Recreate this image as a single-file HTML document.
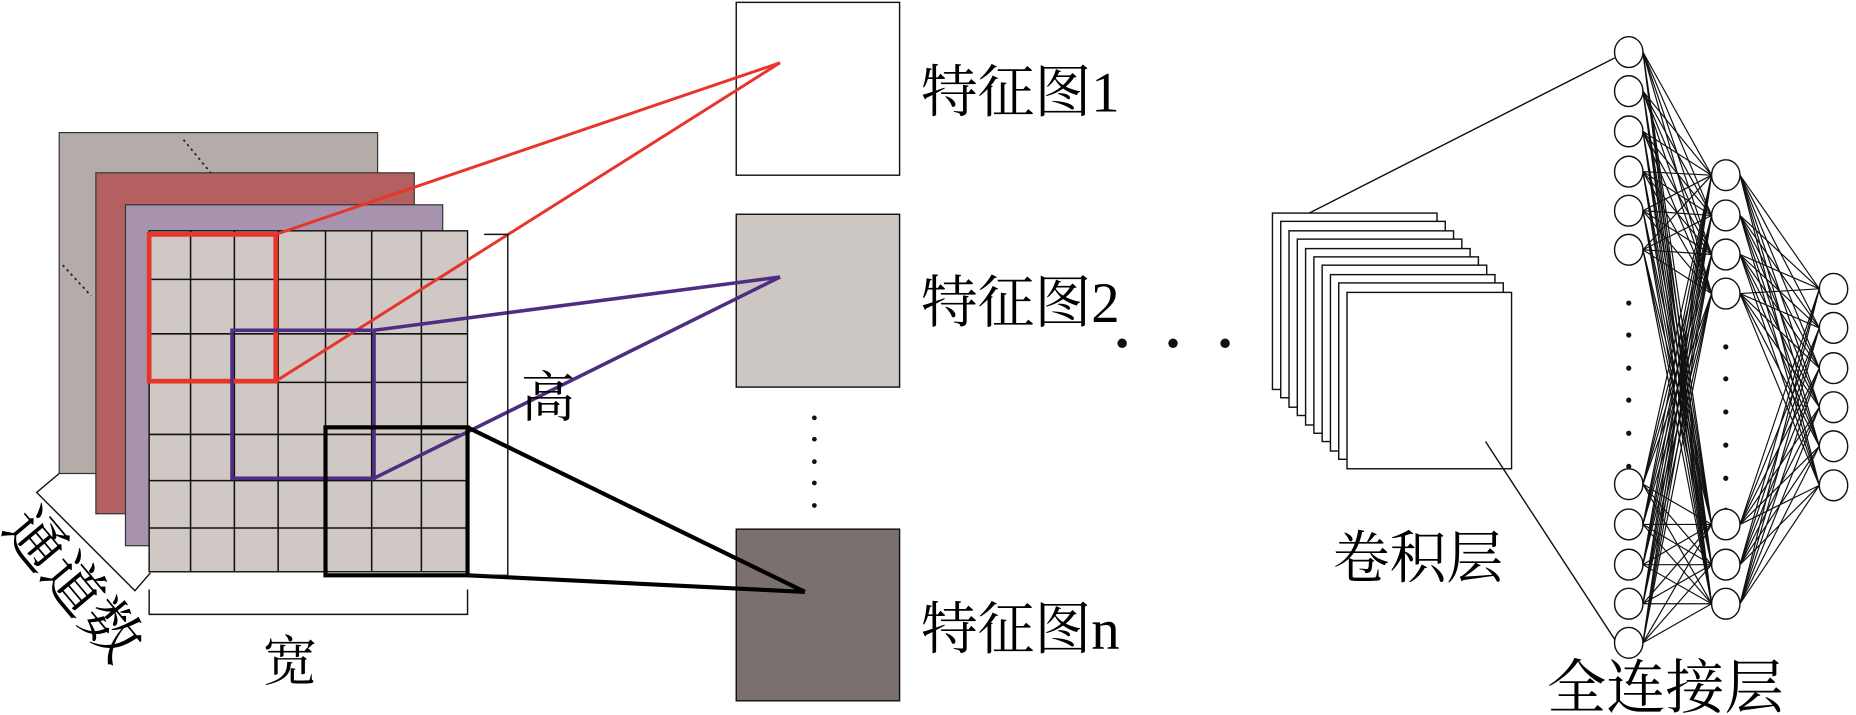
<!DOCTYPE html>
<html><head><meta charset="utf-8"><style>html,body{margin:0;padding:0;background:#fff;}svg{display:block}</style></head>
<body>
<svg width="1856" height="715" viewBox="0 0 1568 604" preserveAspectRatio="none" xmlns="http://www.w3.org/2000/svg" font-family="'Liberation Serif','Noto Serif CJK SC',serif">
<rect x="622" y="2" width="138" height="146" fill="#fff" stroke="#111" stroke-width="1.2"/>
<rect x="622" y="181" width="138" height="146" fill="#cdc7c3" stroke="#111" stroke-width="1.2"/>
<rect x="622" y="447" width="138" height="145" fill="#7a706e" stroke="#111" stroke-width="1.2"/>
<rect x="50" y="112" width="269" height="288" fill="#b3aca8" stroke="#333" stroke-width="1"/>
<line x1="155" y1="118" x2="178" y2="146" stroke="#222" stroke-width="1.5" stroke-dasharray="2,3"/>
<line x1="53" y1="224" x2="77" y2="250" stroke="#222" stroke-width="1.5" stroke-dasharray="2,3"/>
<rect x="81" y="146" width="269" height="288" fill="#b46060" stroke="#333" stroke-width="1"/>
<rect x="106" y="173" width="268" height="288" fill="#a893ae" stroke="#333" stroke-width="1"/>
<rect x="126" y="195" width="269" height="288" fill="#cfc8c4" stroke="#111" stroke-width="1.2"/>
<g stroke="#111" stroke-width="1.3">
<line x1="161" y1="195" x2="161" y2="483"/><line x1="198" y1="195" x2="198" y2="483"/><line x1="235" y1="195" x2="235" y2="483"/><line x1="275" y1="195" x2="275" y2="483"/><line x1="314" y1="195" x2="314" y2="483"/><line x1="356" y1="195" x2="356" y2="483"/>
<line x1="126" y1="236" x2="395" y2="236"/><line x1="126" y1="282" x2="395" y2="282"/><line x1="126" y1="323" x2="395" y2="323"/><line x1="126" y1="367" x2="395" y2="367"/><line x1="126" y1="406" x2="395" y2="406"/><line x1="126" y1="446" x2="395" y2="446"/>
</g>
<rect x="126" y="198" width="107" height="124" fill="none" stroke="#e8352b" stroke-width="4"/>
<line x1="233" y1="198" x2="659" y2="53" stroke="#e8352b" stroke-width="2.5"/>
<line x1="233" y1="322" x2="659" y2="53" stroke="#e8352b" stroke-width="2.5"/>
<rect x="196" y="279" width="120" height="125" fill="none" stroke="#4f2d82" stroke-width="3"/>
<line x1="316" y1="279" x2="659" y2="234" stroke="#4f2d82" stroke-width="3"/>
<line x1="316" y1="404" x2="659" y2="234" stroke="#4f2d82" stroke-width="3"/>
<rect x="275" y="361" width="120" height="125" fill="none" stroke="#000" stroke-width="3.5"/>
<line x1="395" y1="361" x2="680" y2="500" stroke="#000" stroke-width="3.5"/>
<line x1="395" y1="486" x2="680" y2="500" stroke="#000" stroke-width="3.5"/>
<polyline points="409,198 429,198 429,486 395,486" fill="none" stroke="#111" stroke-width="1.2"/>
<polyline points="126,498 126,519 395,519 395,498" fill="none" stroke="#111" stroke-width="1.2"/>
<polyline points="50,400 31,416 114,499 127,484" fill="none" stroke="#111" stroke-width="1.2"/>
<text x="440" y="352" font-size="46">高</text>
<text x="222" y="575" font-size="46">宽</text>
<text transform="translate(62,494) rotate(50)" x="0" y="17" text-anchor="middle" font-size="50">通道数</text>
<g fill="#111"><circle cx="688" cy="353" r="2"/><circle cx="688" cy="371" r="2"/><circle cx="688" cy="390" r="2"/><circle cx="688" cy="408" r="2"/><circle cx="688" cy="427" r="2"/>
<circle cx="948" cy="290" r="4"/><circle cx="991" cy="290" r="4"/><circle cx="1035" cy="290" r="4"/></g>
<text x="778" y="94" font-size="48">特征图1</text>
<text x="778" y="272" font-size="48">特征图2</text>
<text x="778" y="548" font-size="48">特征图n</text>
<g fill="#fff" stroke="#111" stroke-width="1.2">
<rect x="1075" y="180" width="139" height="149"/><rect x="1082" y="187" width="139" height="149"/><rect x="1089" y="195" width="139" height="149"/><rect x="1096" y="202" width="139" height="149"/><rect x="1103" y="210" width="139" height="149"/><rect x="1110" y="217" width="139" height="149"/><rect x="1117" y="224" width="139" height="149"/><rect x="1124" y="232" width="139" height="149"/><rect x="1131" y="239" width="139" height="149"/><rect x="1138" y="247" width="139" height="149"/>
</g>
<line x1="1106" y1="180" x2="1364" y2="49" stroke="#111" stroke-width="1.2"/>
<line x1="1255" y1="373" x2="1366" y2="543" stroke="#111" stroke-width="1.2"/>
<text x="1126" y="488" font-size="48">卷积层</text>
<text x="1307" y="598" font-size="50">全连接层</text>
<g id="net" stroke="#111" stroke-width="1"></g>
<g fill="#111"><circle cx="1376" cy="256" r="2.2"/><circle cx="1376" cy="283" r="2.2"/><circle cx="1376" cy="311" r="2.2"/><circle cx="1376" cy="338" r="2.2"/><circle cx="1376" cy="366" r="2.2"/><circle cx="1376" cy="394" r="2.2"/>
<circle cx="1458" cy="293" r="2.2"/><circle cx="1458" cy="320" r="2.2"/><circle cx="1458" cy="348" r="2.2"/><circle cx="1458" cy="376" r="2.2"/><circle cx="1458" cy="404" r="2.2"/><circle cx="1458" cy="431" r="2.2"/></g>
<g id="nodes" fill="#fff" stroke="#111" stroke-width="1.2"></g>
<script>
var L1=[44,77,111,145,178,211,409,443,477,510,543],L2=[148,182,215,248,443,477,510],L3=[244,277,311,344,377,410];
var ns="http://www.w3.org/2000/svg",net=document.getElementById('net'),nd=document.getElementById('nodes');
function ln(a,b,c,d){var l=document.createElementNS(ns,'line');l.setAttribute('x1',a);l.setAttribute('y1',b);l.setAttribute('x2',c);l.setAttribute('y2',d);net.appendChild(l);}
L1.forEach(function(y){L2.forEach(function(z){ln(1388,y,1446,z);});});
L2.forEach(function(y){L3.forEach(function(z){ln(1470,y,1537,z);});});
function ci(x,y){var e=document.createElementNS(ns,'ellipse');e.setAttribute('cx',x);e.setAttribute('cy',y);e.setAttribute('rx',12);e.setAttribute('ry',13);nd.appendChild(e);}
L1.forEach(function(y){ci(1376,y)});L2.forEach(function(y){ci(1458,y)});L3.forEach(function(y){ci(1549,y)});
</script>
</svg>
</body></html>
